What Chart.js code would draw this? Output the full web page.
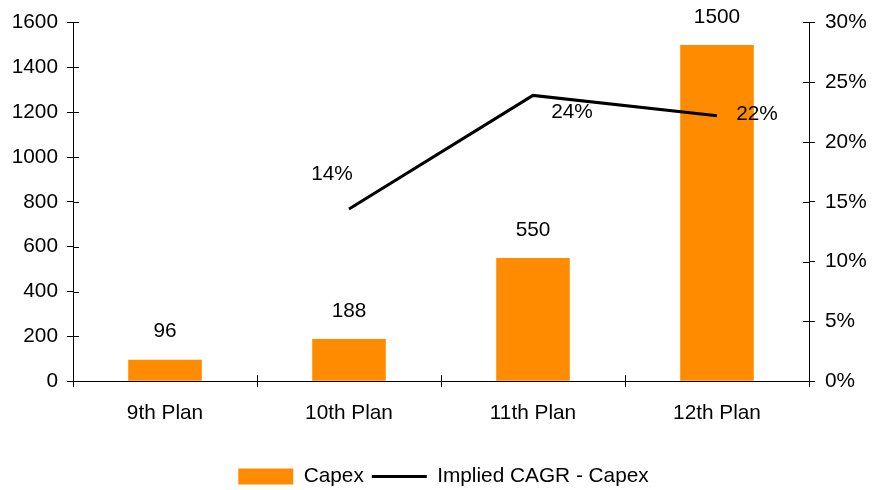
<!DOCTYPE html>
<html>
<head>
<meta charset="utf-8">
<script src="https://cdn.jsdelivr.net/npm/chart.js@4.4.0/dist/chart.umd.min.js"></script>
<style>
html,body{margin:0;padding:0;background:#fff;}
#wrap{width:887px;height:490px;}
</style>
</head>
<body>
<div id="wrap"><canvas id="c" width="887" height="490"></canvas></div>
<script>
const categories = ["9th Plan", "10th Plan", "11th Plan", "12th Plan"];
const capex = [96, 188, 550, 1500];
const cagr = [null, 14.4, 23.9, 22.2];
const leftTicks = [0, 200, 400, 600, 800, 1000, 1200, 1400, 1600];
const rightTicks = [0, 5, 10, 15, 20, 25, 30];

const FONT = "'Liberation Sans', Arial, sans-serif";
const FS = 20.8;
const lineLabelOffsets = [[0,0],[-17,-35],[39,17],[40,-1]];

const labelPlugin = {
  id: 'labels',
  afterDatasetsDraw(chart) {
    const ctx = chart.ctx;
    ctx.save();
    ctx.font = FS + "px " + FONT;
    ctx.fillStyle = "#000";
    ctx.textAlign = "center";
    ctx.textBaseline = "middle";
    chart.getDatasetMeta(0).data.forEach((bar, i) => {
      ctx.fillText(String(capex[i]), bar.x, bar.y - 28);
    });
    chart.getDatasetMeta(1).data.forEach((pt, i) => {
      if (cagr[i] == null) return;
      const o = lineLabelOffsets[i];
      ctx.fillText(Math.round(cagr[i]) + "%", pt.x + o[0], pt.y + o[1]);
    });
    ctx.restore();
  }
};

const innerTicks = {
  id: 'innerTicks',
  afterDraw(chart) {
    const ctx = chart.ctx;
    const a = chart.chartArea;
    ctx.save();
    ctx.strokeStyle = "#000";
    ctx.lineWidth = 1;
    ctx.beginPath();
    const y = chart.scales.y, y1 = chart.scales.y1;
    y.ticks.forEach((t, i) => {
      const p = Math.round(y.getPixelForTick(i)) + 0.5;
      ctx.moveTo(a.left, p); ctx.lineTo(a.left + 6, p);
    });
    y1.ticks.forEach((t, i) => {
      const p = Math.round(y1.getPixelForTick(i)) + 0.5;
      ctx.moveTo(a.right, p); ctx.lineTo(a.right - 6, p);
    });
    const n = categories.length;
    for (let i = 0; i <= n; i++) {
      const p = Math.round(a.left + (a.right - a.left) * i / n) + 0.5;
      ctx.moveTo(p, a.bottom); ctx.lineTo(p, a.bottom - 6);
    }
    ctx.stroke();
    ctx.restore();
  }
};

Chart.defaults.font.family = FONT;
Chart.defaults.font.size = FS;
Chart.defaults.color = "#000";

new Chart(document.getElementById('c'), {
  data: {
    labels: categories,
    datasets: [
      {
        type: 'bar',
        label: 'Capex',
        data: capex,
        backgroundColor: '#FF8C00',
        borderWidth: 0,
        barPercentage: 0.4,
        categoryPercentage: 1.0,
        yAxisID: 'y',
        order: 2
      },
      {
        type: 'line',
        label: 'Implied CAGR - Capex',
        data: cagr,
        borderColor: '#000',
        backgroundColor: '#000',
        borderWidth: 3,
        pointRadius: 0,
        tension: 0,
        yAxisID: 'y1',
        order: 1
      }
    ]
  },
  options: {
    responsive: false,
    animation: false,
    events: [],
    layout: { padding: { top: 20, left: 0, right: 0, bottom: -7 } },
    plugins: {
      tooltip: { enabled: false },
      legend: {
        position: 'bottom',
        labels: {
          usePointStyle: true,
          pointStyleWidth: 55,
          boxHeight: 16,
          padding: 8,
          font: { size: FS, family: FONT },
          color: '#000',
          generateLabels(chart) {
            const items = Chart.defaults.plugins.legend.labels.generateLabels(chart);
            items.sort((a, b) => a.datasetIndex - b.datasetIndex);
            items.forEach(it => {
              if (it.datasetIndex === 0) {
                it.pointStyle = 'rect';
                it.lineWidth = 0;
                it.fillStyle = '#FF8C00';
                it.strokeStyle = '#FF8C00';
              } else {
                it.pointStyle = 'line';
                it.lineWidth = 3;
                it.strokeStyle = '#000';
              }
            });
            return items;
          }
        }
      }
    },
    scales: {
      x: {
        grid: { display: true, drawOnChartArea: false, drawTicks: true, tickLength: 6, color: '#000', offset: true },
        border: { color: '#000', width: 1 },
        ticks: { padding: 14, font: { size: FS }, color: '#000' },
        afterFit(s) { s.height = 77; }
      },
      y: {
        position: 'left',
        min: 0, max: 1600,
        afterBuildTicks(s) { s.ticks = leftTicks.map(v => ({ value: v })); },
        grid: { display: true, drawOnChartArea: false, drawTicks: true, tickLength: 6, color: '#000' },
        border: { color: '#000', width: 1 },
        ticks: { padding: 9, font: { size: FS }, color: '#000', callback: v => String(v) },
        afterFit(s) { s.width = 73; }
      },
      y1: {
        position: 'right',
        min: 0, max: 30,
        afterBuildTicks(s) { s.ticks = rightTicks.map(v => ({ value: v })); },
        grid: { display: true, drawOnChartArea: false, drawTicks: true, tickLength: 6, color: '#000' },
        border: { color: '#000', width: 1 },
        ticks: { padding: 10, font: { size: FS }, color: '#000', callback: v => v + '%' },
        afterFit(s) { s.width = 78; }
      }
    }
  },
  plugins: [labelPlugin, innerTicks]
});
</script>
</body>
</html>
